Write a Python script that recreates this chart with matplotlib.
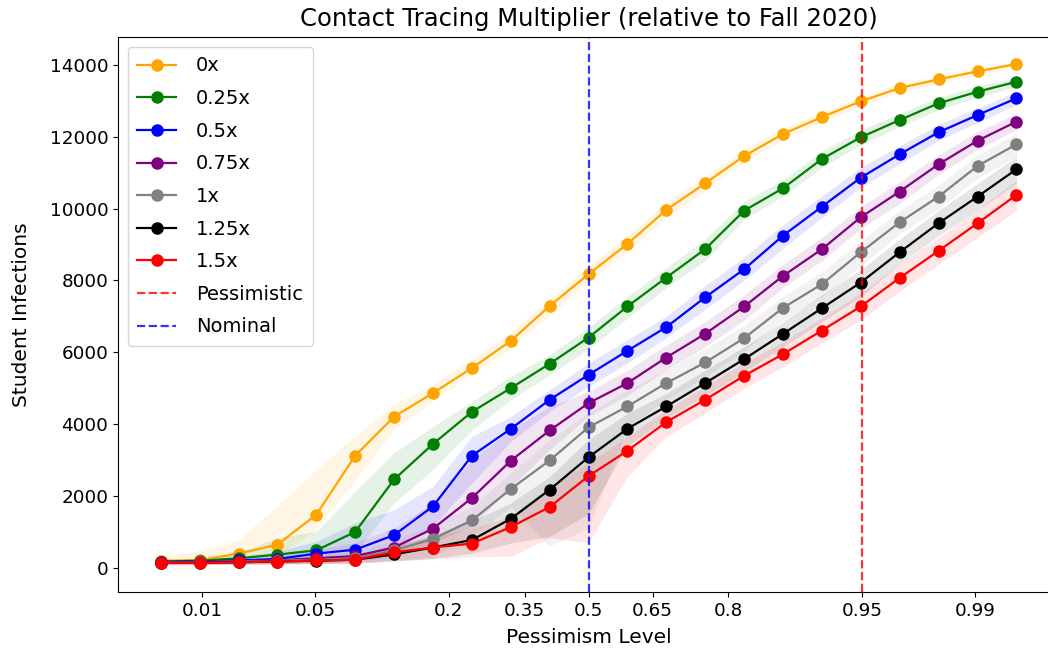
import math
import numpy as np
import matplotlib
matplotlib.use("Agg")
import matplotlib.pyplot as plt

# ---- data ----
# x positions: probit (standard-normal quantile) of the pessimism level
pessimism_z = [-2.576, -2.342, -2.107, -1.873, -1.639, -1.405, -1.171, -0.937,
               -0.702, -0.468, -0.234, 0.0, 0.234, 0.468, 0.702, 0.937,
               1.171, 1.405, 1.639, 1.873, 2.107, 2.342, 2.576]

tick_levels = [0.01, 0.05, 0.2, 0.35, 0.5, 0.65, 0.8, 0.95, 0.99]
tick_labels = ["0.01", "0.05", "0.2", "0.35", "0.5", "0.65", "0.8", "0.95", "0.99"]

labels = ["0x", "0.25x", "0.5x", "0.75x", "1x", "1.25x", "1.5x"]
colors = ["orange", "green", "blue", "purple", "grey", "black", "red"]

mean_0x = [190, 210, 390, 640, 1475, 3117, 4205, 4862, 5560, 6318, 7290, 8174,
           9018, 9964, 10707, 11467, 12079, 12552, 12989, 13360, 13601, 13824, 14027]
low_0x = [120, 140, 250, 350, 1060, 2450, 3850, 4650, 5380, 6100, 7050, 7950,
          8800, 9750, 10500, 11300, 11900, 12400, 12850, 13250, 13500, 13720, 13950]
high_0x = [320, 460, 780, 1720, 2730, 3670, 4550, 5100, 5800, 6550, 7500, 8400,
           9250, 10200, 10900, 11650, 12250, 12700, 13100, 13480, 13700, 13920, 14100]

mean_025x = [170, 190, 260, 362, 482, 994, 2455, 3443, 4340, 5001, 5678, 6410,
             7274, 8081, 8871, 9945, 10568, 11384, 11988, 12469, 12934, 13257, 13535]
low_025x = [110, 120, 170, 200, 220, 420, 1800, 2730, 3840, 4676, 5370, 6100,
            6950, 7800, 8550, 9700, 10350, 11150, 11780, 12280, 12750, 13100, 13400]
high_025x = [230, 260, 420, 835, 1010, 2124, 3200, 3930, 4630, 5330, 5930, 6700,
             7550, 8350, 9150, 10200, 10800, 11600, 12200, 12650, 13100, 13420, 13650]

mean_05x = [160, 170, 200, 240, 390, 500, 905, 1707, 3117, 3865, 4676, 5372,
            6040, 6699, 7530, 8313, 9249, 10056, 10863, 11514, 12127, 12608, 13073]
low_05x = [100, 110, 130, 150, 180, 250, 594, 1150, 2357, 3516, 4350, 5050,
           5700, 6400, 7200, 8000, 8900, 9750, 10600, 11250, 11900, 12400, 12900]
high_05x = [220, 240, 300, 450, 730, 1250, 1610, 2264, 3655, 4212, 4955, 5700,
            6350, 7000, 7850, 8650, 9550, 10350, 11150, 11750, 12350, 12800, 13250]

mean_075x = [150, 160, 180, 200, 260, 320, 560, 1085, 1940, 2978, 3822, 4583,
             5140, 5853, 6513, 7274, 8127, 8871, 9761, 10475, 11236, 11893, 12422]
low_075x = [100, 100, 110, 120, 130, 180, 300, 690, 1150, 2260, 3285, 4210,
            4800, 5500, 6150, 6900, 7800, 8550, 9450, 10150, 10950, 11650, 12200]
high_075x = [210, 220, 260, 320, 500, 700, 1100, 1800, 3000, 3840, 4490, 4907,
             5500, 6200, 6850, 7600, 8450, 9200, 10050, 10750, 11500, 12150, 12650]

mean_1x = [140, 150, 170, 190, 220, 260, 480, 800, 1317, 2190, 2987, 3910,
           4490, 5140, 5714, 6393, 7236, 7896, 8786, 9620, 10335, 11189, 11792]
low_1x = [90, 90, 100, 110, 120, 140, 200, 300, 870, 1700, 600, 1100,
          3900, 4700, 5300, 6050, 6900, 7550, 8400, 9300, 10000, 10850, 11450]
high_1x = [200, 210, 240, 270, 330, 450, 750, 1200, 1700, 2640, 3560, 4310,
           4950, 5500, 6100, 6750, 7550, 8250, 9100, 9950, 10650, 11500, 12100]

mean_125x = [130, 140, 150, 170, 190, 220, 370, 560, 770, 1360, 2171, 3076,
             3869, 4490, 5140, 5808, 6513, 7227, 7942, 8786, 9593, 10335, 11097]
low_125x = [80, 80, 90, 100, 110, 120, 180, 250, 400, 690, 870, 1500,
            3400, 4150, 4800, 5450, 6150, 6850, 7550, 8450, 9250, 9950, 10700]
high_125x = [190, 200, 220, 250, 300, 380, 600, 900, 1300, 1800, 2540, 3560,
             4300, 4850, 5500, 6150, 6850, 7600, 8300, 9150, 9950, 10700, 11450]

mean_15x = [130, 135, 150, 170, 200, 220, 430, 560, 670, 1130, 1690, 2550,
            3256, 4055, 4676, 5344, 5947, 6605, 7274, 8070, 8823, 9593, 10382]
low_15x = [80, 80, 90, 100, 110, 120, 200, 250, 300, 315, 835, 690,
           2540, 3655, 4300, 5000, 5600, 6250, 6900, 7700, 8450, 9200, 9950]
high_15x = [180, 190, 210, 240, 280, 330, 650, 850, 1100, 1430, 2263, 2920,
            3655, 4400, 5050, 5700, 6300, 6950, 7650, 8450, 9200, 9950, 10800]

means = [mean_0x, mean_025x, mean_05x, mean_075x, mean_1x, mean_125x, mean_15x]
lows = [low_0x, low_025x, low_05x, low_075x, low_1x, low_125x, low_15x]
highs = [high_0x, high_025x, high_05x, high_075x, high_1x, high_125x, high_15x]

nominal_level = 0.5
pessimistic_level = 0.95


def probit(p):
    """Standard normal quantile via bisection on the CDF."""
    lo, hi = -10.0, 10.0
    for _ in range(100):
        mid = 0.5 * (lo + hi)
        if 0.5 * (1 + math.erf(mid / math.sqrt(2))) < p:
            lo = mid
        else:
            hi = mid
    return 0.5 * (lo + hi)


fig = plt.figure(figsize=(10.48, 6.51), dpi=100)
ax = fig.add_axes([0.1126, 0.0906, 0.898, 0.8525])

for m, lo, hi, c, lab in zip(means, lows, highs, colors, labels):
    ax.fill_between(pessimism_z, lo, hi, color=c, alpha=0.1, linewidth=0)
    ax.plot(pessimism_z, m, marker="o", color=c, label=lab,
            markersize=8, linewidth=1.6)

ax.axvline(probit(pessimistic_level), color="red", linestyle="--",
           alpha=0.8, linewidth=1.6, label="Pessimistic")
ax.axvline(probit(nominal_level), color="blue", linestyle="--",
           alpha=0.8, linewidth=1.6, label="Nominal")

ax.set_xticks([probit(p) for p in tick_levels])
ax.set_xticklabels(tick_labels)
ax.set_xlim(-2.833, 2.833)
ax.set_ylim(-680, 14780)
ax.set_yticks(np.arange(0, 14001, 2000))
ax.tick_params(labelsize=13.2)

ax.set_xlabel("Pessimism Level", fontsize=14.5, labelpad=6)
ax.set_ylabel("Student Infections", fontsize=14.5, labelpad=13)
ax.set_title("Contact Tracing Multiplier (relative to Fall 2020)", fontsize=17.5, pad=8)
ax.legend(loc="upper left", fontsize=14.0, labelspacing=0.7,
          handletextpad=1.0, borderpad=0.5)

fig.savefig("out.png", dpi=100)
